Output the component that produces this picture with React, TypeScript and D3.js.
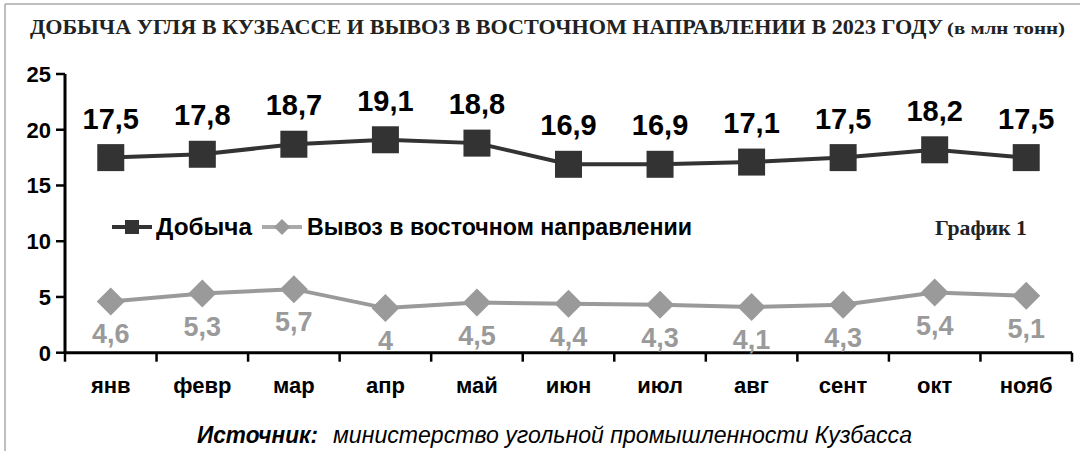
import React from 'react';
import * as d3 from 'd3';

const months = ['янв', 'февр', 'мар', 'апр', 'май', 'июн', 'июл', 'авг', 'сент', 'окт', 'нояб'];
const mining = [17.5, 17.8, 18.7, 19.1, 18.8, 16.9, 16.9, 17.1, 17.5, 18.2, 17.5];
const exportEast = [4.6, 5.3, 5.7, 4, 4.5, 4.4, 4.3, 4.1, 4.3, 5.4, 5.1];
const yTicks = [0, 5, 10, 15, 20, 25];

const W = 1080;
const H = 451;
const sans = '"Liberation Sans", Arial, sans-serif';
const serif = '"Liberation Serif", "Times New Roman", serif';
const dark = '#333333';
const gray = '#9a9a9a';

const fmt = (v: number) => String(v).replace('.', ',');

export default function App() {
  const x = d3.scaleBand<string>().domain(months).range([65, 1072]);
  const y = d3.scaleLinear().domain([0, 25]).range([352.7, 74]);
  const cx = (m: string) => (x(m) as number) + x.bandwidth() / 2;

  const line = d3.line<number>()
    .x((d, i) => cx(months[i]))
    .y(d => y(d));

  const diamond = (px: number, py: number, r: number) =>
    `M${px},${py - r}L${px + r},${py}L${px},${py + r}L${px - r},${py}Z`;

  // границы категорий для засечек оси X
  const edges = months.map(m => x(m) as number).concat([x.range()[1]]);

  return (
    <svg width={W} height={H} style={{ position: 'absolute', left: 0, top: 0, background: '#fff' }}>
      <rect x={0} y={0} width={W} height={H} fill='#fff' />
      {/* рамка */}
      <line x1={5} y1={4} x2={W} y2={4} stroke='#aaa' strokeWidth={1.5} />
      <line x1={5} y1={4} x2={5} y2={H} stroke='#aaa' strokeWidth={1.5} />

      {/* заголовок */}
      <text x={30} y={34} fontFamily={serif} fontWeight='bold' fontSize={21} fill='#222'
        textLength={913} lengthAdjust='spacingAndGlyphs'>
        ДОБЫЧА УГЛЯ В КУЗБАССЕ И ВЫВОЗ В ВОСТОЧНОМ НАПРАВЛЕНИИ В 2023 ГОДУ
      </text>
      <text x={947} y={34} fontFamily={serif} fontWeight='bold' fontSize={16} fill='#222'
        textLength={118} lengthAdjust='spacingAndGlyphs'>
        (в млн тонн)
      </text>

      {/* ось Y */}
      <line x1={65} y1={y(25)} x2={65} y2={y(0)} stroke='#000' strokeWidth={3} />
      {yTicks.map(t => (
        <g key={t}>
          <line x1={56} x2={65} y1={y(t)} y2={y(t)} stroke='#000' strokeWidth={2.5} />
          <text x={51} y={y(t)} dy='0.36em' textAnchor='end' fontFamily={sans} fontWeight='bold'
            fontSize={22} fill='#000'>{t}</text>
        </g>
      ))}

      {/* ось X */}
      <line x1={65} y1={y(0)} x2={1072} y2={y(0)} stroke='#000' strokeWidth={3} />
      {edges.map((e, i) => (
        <line key={i} x1={e} x2={e} y1={y(0)} y2={y(0) + 9} stroke='#000' strokeWidth={2.5} />
      ))}
      {months.map(m => (
        <text key={m} x={cx(m)} y={393} textAnchor='middle' fontFamily={sans} fontWeight='bold'
          fontSize={22} fill='#000'>{m}</text>
      ))}

      {/* Добыча */}
      <path d={line(mining) || ''} fill='none' stroke={dark} strokeWidth={4} />
      {mining.map((v, i) => (
        <g key={i}>
          <rect x={cx(months[i]) - 13.5} y={y(v) - 13.5} width={27} height={27} fill={dark} />
          <text x={cx(months[i])} y={y(v) - 29} textAnchor='middle' fontFamily={sans}
            fontWeight='bold' fontSize={29} fill='#000'>{fmt(v)}</text>
        </g>
      ))}

      {/* Вывоз */}
      <path d={line(exportEast) || ''} fill='none' stroke={gray} strokeWidth={4} />
      {exportEast.map((v, i) => (
        <g key={i}>
          <path d={diamond(cx(months[i]), y(v), 14)} fill={gray} />
          <text x={cx(months[i])} y={y(v) + 42} textAnchor='middle' fontFamily={sans}
            fontWeight='bold' fontSize={27} fill={gray}>{fmt(v)}</text>
        </g>
      ))}

      {/* легенда */}
      <line x1={112} x2={152} y1={227} y2={227} stroke={dark} strokeWidth={4} />
      <rect x={125} y={220} width={14} height={14} fill={dark} />
      <text x={156} y={227} dy='0.36em' fontFamily={sans} fontWeight='bold' fontSize={23} fill='#000'
        textLength={96} lengthAdjust='spacingAndGlyphs'>Добыча</text>
      <line x1={262} x2={302} y1={227} y2={227} stroke='#aaa' strokeWidth={4} />
      <path d={diamond(282, 227, 8)} fill={gray} />
      <text x={307} y={227} dy='0.36em' fontFamily={sans} fontWeight='bold' fontSize={23} fill='#000'
        textLength={385} lengthAdjust='spacingAndGlyphs'>
        Вывоз в восточном направлении
      </text>
      <text x={935} y={227} dy='0.36em' fontFamily={serif} fontWeight='bold' fontSize={22} fill='#222'
        textLength={92} lengthAdjust='spacingAndGlyphs'>
        График 1
      </text>

      {/* источник */}
      <text x={197} y={443} fontFamily={sans} fontStyle='italic' fontWeight='bold' fontSize={23} fill='#000'
        textLength={121} lengthAdjust='spacingAndGlyphs'>Источник:</text>
      <text x={333} y={443} fontFamily={sans} fontStyle='italic' fontSize={23} fill='#000'
        textLength={579} lengthAdjust='spacingAndGlyphs'>министерство угольной промышленности Кузбасса</text>
    </svg>
  );
}
